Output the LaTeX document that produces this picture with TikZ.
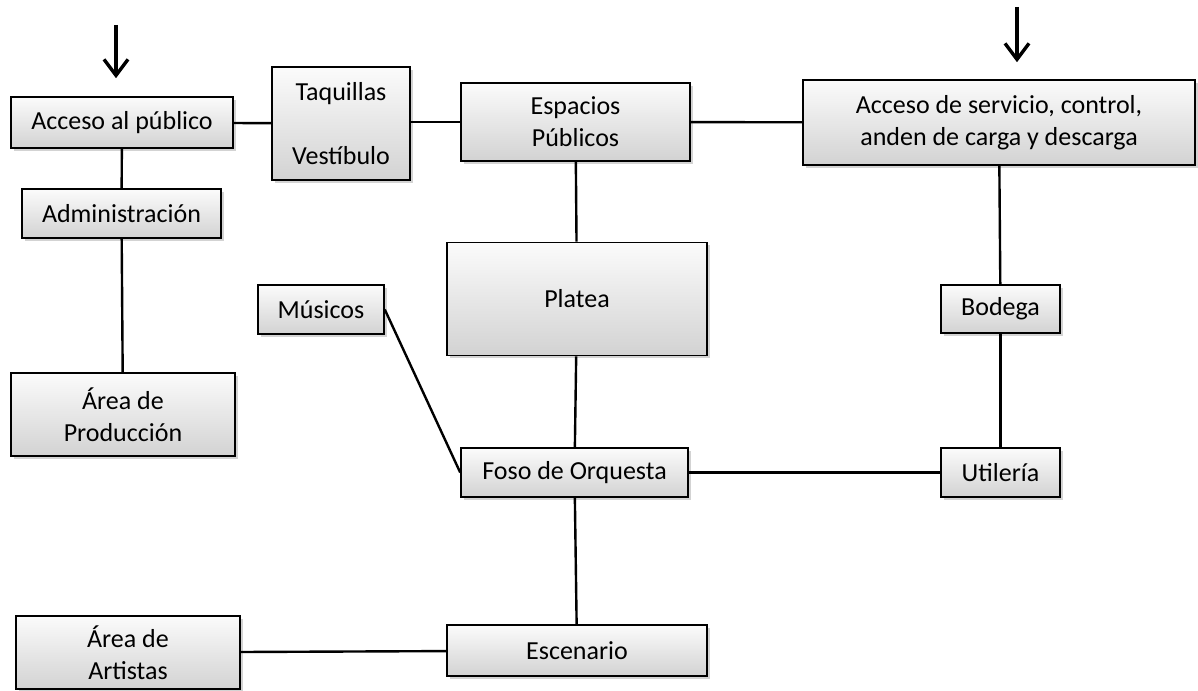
\documentclass[tikz,border=0pt]{standalone}
\usepackage{fontspec}
\setmainfont{Carlito}
\usepackage{tikz}
\usetikzlibrary{arrows.meta,shadows}

\tikzset{
  bloque/.style={draw=black, line width=0.8pt, top color=gray!3, bottom color=gray!35,
    drop shadow={opacity=0.35, shadow xshift=1.4pt, shadow yshift=-1.4pt},
    align=center, inner sep=0pt, font=\fontsize{13}{16}\selectfont},
  enlace/.style={line width=1.2pt},
  entrada/.style={line width=1.7pt, -{Straight Barb[length=8pt,width=12pt,line width=1.7pt]}}
}

\begin{document}
\begin{tikzpicture}[x=0.5pt, y=-0.5pt]
	\useasboundingbox (0,0) rectangle (1198,690);
	% fila superior
	\node[bloque, minimum width=111pt, minimum height=25.5pt] (pub) at (122,122.5) {Acceso al público};
	\node[bloque, minimum width=69pt, minimum height=56.5pt] (taq) at (341,123.5) {Taquillas\\[16pt]Vestíbulo};
	\node[bloque, minimum width=114.5pt, minimum height=39pt] (esp) at (575.5,122) {Espacios\\Públicos};
	\node[bloque, minimum width=196pt, minimum height=42.5pt] (serv) at (999,122.5) {Acceso de servicio, control,\\anden de carga y descarga};
	% columna izquierda
	\node[bloque, minimum width=99.5pt, minimum height=24.5pt] (adm) at (121.5,213.5) {Administración};
	\node[bloque, minimum width=112pt, minimum height=41.5pt] (prod) at (123,414.5) {Área de\\Producción};
	\node[bloque, minimum width=112pt, minimum height=36.5pt] (art) at (128,652.5) {Área de\\Artistas};
	% centro
	\node[bloque, minimum width=63pt, minimum height=24.5pt] (mus) at (321,309.5) {Músicos};
	\node[bloque, minimum width=130pt, minimum height=56.5pt] (plat) at (577,299) {Platea};
	\node[bloque, minimum width=113.5pt, minimum height=24.5pt] (foso) at (574.5,472.5) {Foso de Orquesta};
	\node[bloque, minimum width=130pt, minimum height=25.5pt] (esc) at (577,650.5) {Escenario};
	% columna derecha
	\node[bloque, minimum width=59.5pt, minimum height=24pt] (bod) at (1000.5,309) {Bodega};
	\node[bloque, minimum width=59.5pt, minimum height=24.5pt] (util) at (1000.5,472.5) {Utilería};

	% accesos
	\coordinate (inpub) at (116,25);
	\coordinate (inserv) at (1017,7);
	\draw[entrada, shorten >=9pt] (inpub) -- (inpub |- pub.north);
	\draw[entrada, shorten >=8.5pt] (inserv) -- (inserv |- serv.north);

	% enlaces
	\draw[enlace] (pub) -- (taq);
	\draw[enlace] (taq.east |- esp) -- (esp);
	\draw[enlace] (esp) -- (serv);
	\draw[enlace] (pub) -- (adm);
	\draw[enlace] (adm) -- (prod);
	\draw[enlace] (esp) -- (plat);
	\draw[enlace] (plat) -- (foso);
	\draw[enlace] (mus.east) -- (foso.west);
	\draw[enlace] (foso) -- (util);
	\draw[enlace] (serv) -- (bod);
	\draw[enlace] (bod) -- (util);
	\draw[enlace] (foso) -- (esc);
	\draw[enlace] (art) -- (esc);
\end{tikzpicture}
\end{document}
